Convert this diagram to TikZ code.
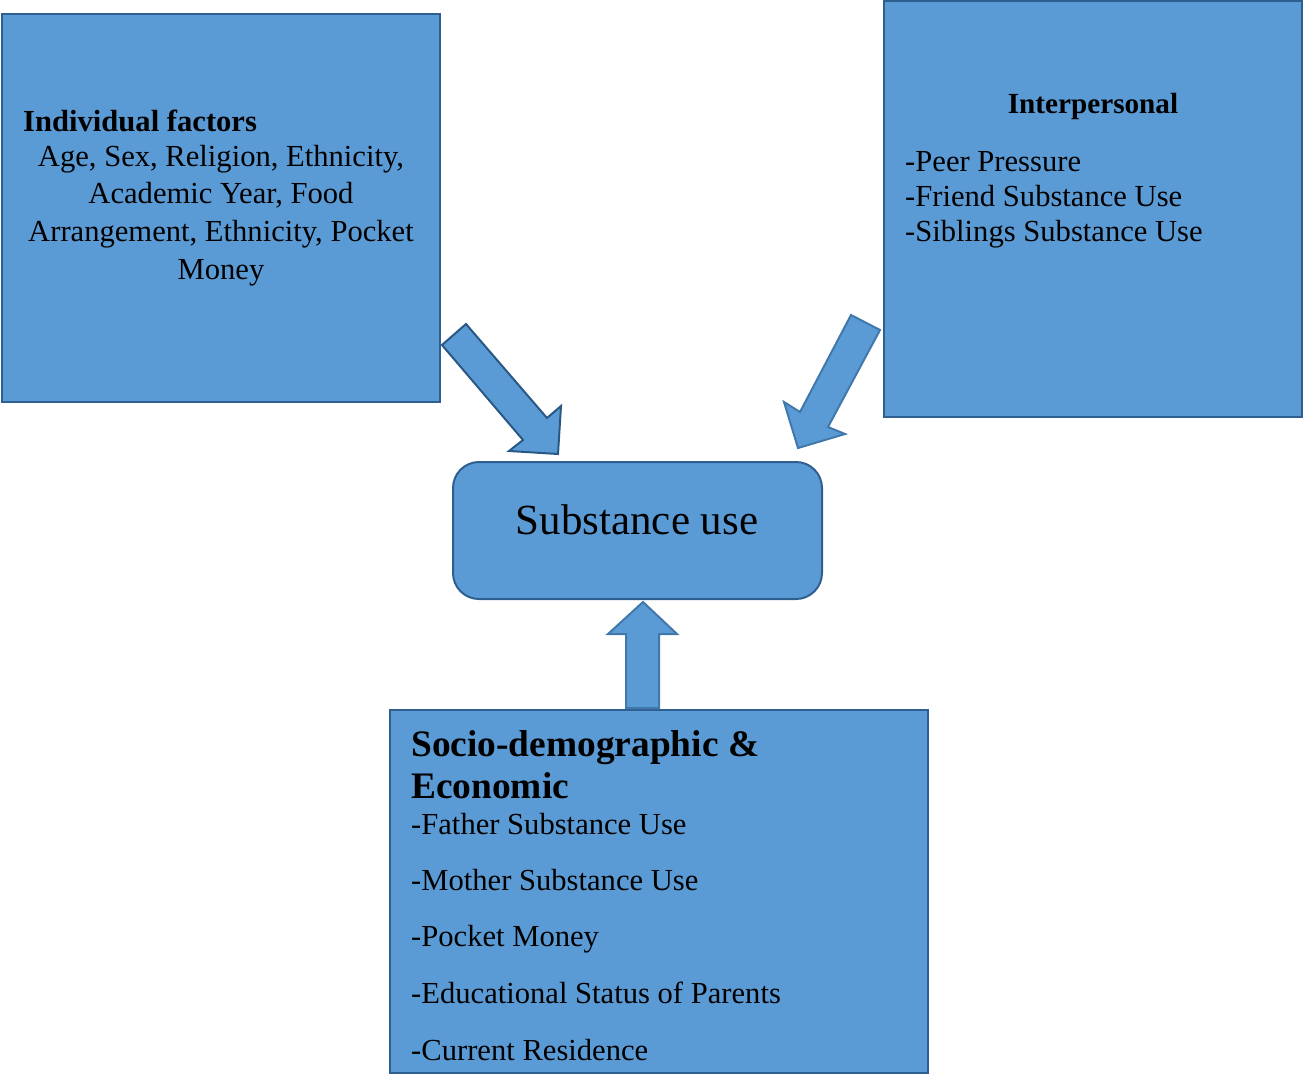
\documentclass[tikz,border=0pt]{standalone}
\usepackage{fontspec}
\setmainfont{Liberation Serif}
\definecolor{boxfill}{HTML}{5B9BD5}
\definecolor{boxline}{HTML}{2F5F90}
\definecolor{arrline}{HTML}{2A5884}
\definecolor{arrlineb}{HTML}{4178AC}
\tikzset{
  factorbox/.style={fill=boxfill, draw=boxline, line width=2pt},
  blockarrow/.style={fill=boxfill, draw=arrline, line width=2pt, line join=miter},
  blockarrowb/.style={fill=boxfill, draw=arrlineb, line width=2pt, line join=miter},
  txt/.style={inner sep=0pt, font=\fontsize{30.6}{36}\selectfont},
  hd/.style={inner sep=0pt, font=\fontsize{30.6}{36}\selectfont\bfseries},
  hdb/.style={inner sep=0pt, font=\fontsize{29.2}{36}\selectfont\bfseries},
  bighd/.style={inner sep=0pt, font=\fontsize{37.4}{44}\selectfont\bfseries},
  bigtxt/.style={inner sep=0pt, font=\fontsize{43}{50}\selectfont},
}
\begin{document}
\begin{tikzpicture}[x=1pt, y=-1pt]
\useasboundingbox (0,0) rectangle (1303,1074);
% boxes
\draw[factorbox] (2,14) rectangle (440,402);
\draw[factorbox] (884,1) rectangle (1302,417);
\draw[factorbox, rounded corners=26pt] (453,462) rectangle (822,599);
\draw[factorbox] (390,710) rectangle (928,1073);
% block arrows
\draw[blockarrow] (466,324) -- (442,345) -- (523,440) -- (509,451) -- (558,454) -- (561,406) -- (547,418) -- cycle;
\draw[blockarrowb] (851,315) -- (880,330) -- (828,427) -- (845,434) -- (798,448) -- (784,402) -- (800,412) -- cycle;
\draw[blockarrowb] (626,708) -- (626,634) -- (608,634) -- (643,602) -- (677,634) -- (659,634) -- (659,708) -- cycle;
% individual factors
\node[hd, anchor=base west] (ih) at (23,131.5) {Individual factors};
\node[txt, anchor=base] (i1) at (221,166) {Age, Sex, Religion, Ethnicity,};
\node[txt, anchor=base] (i2) at (221,203.5) {Academic Year, Food};
\node[txt, anchor=base] (i3) at (221,241.5) {Arrangement, Ethnicity, Pocket};
\node[txt, anchor=base] (i4) at (221,279.5) {Money};
% interpersonal
\node[hdb, anchor=base] (ph) at (1093,113.5) {Interpersonal};
\node[txt, anchor=base west] (p1) at (905,171.5) {-Peer Pressure};
\node[txt, anchor=base west] (p2) at (905,206.5) {-Friend Substance Use};
\node[txt, anchor=base west] (p3) at (905,241) {-Siblings Substance Use};
% substance use
\node[bigtxt, anchor=base] (su) at (637,534) {Substance use};
% socio
\node[bighd, anchor=base west] (sh1) at (411,756) {Socio-demographic \&};
\node[bighd, anchor=base west] (sh2) at (411,798) {Economic};
\node[txt, anchor=base west] (s1) at (411,834.5) {-Father Substance Use};
\node[txt, anchor=base west] (s2) at (411,890) {-Mother Substance Use};
\node[txt, anchor=base west] (s3) at (411,946.5) {-Pocket Money};
\node[txt, anchor=base west] (s4) at (411,1003) {-Educational Status of Parents};
\node[txt, anchor=base west] (s5) at (411,1060) {-Current Residence};
\end{tikzpicture}
\end{document}
